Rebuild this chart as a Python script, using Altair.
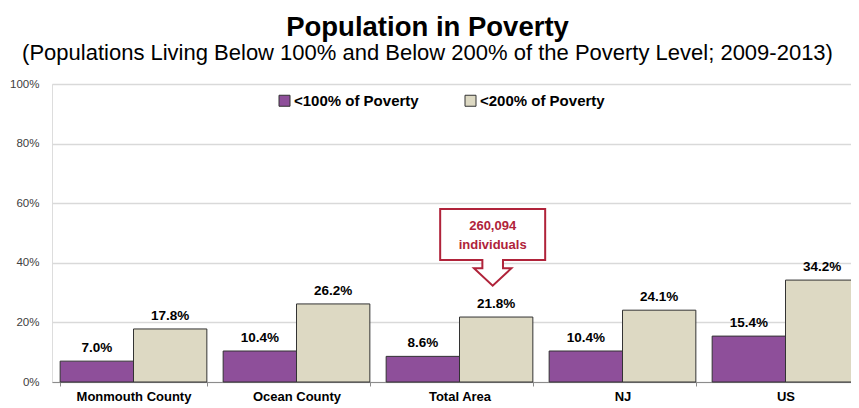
import altair as alt
import pandas as pd

regions = ["Monmouth County", "Ocean County", "Total Area", "NJ", "US"]
series = ["<100% of Poverty", "<200% of Poverty"]
below100 = [0.070, 0.104, 0.086, 0.104, 0.154]
below200 = [0.178, 0.262, 0.218, 0.241, 0.342]
callout_lines = ["260,094", "individuals"]
colors = ["#8E4F9A", "#DDD9C3"]
red = "#B0233A"
FONT = "Liberation Sans"

rows = []
for i, r in enumerate(regions):
    rows.append({"region": r, "series": series[0], "value": below100[i]})
    rows.append({"region": r, "series": series[1], "value": below200[i]})
df = pd.DataFrame(rows)
df["label"] = df["value"].map(lambda v: f"{v*100:.1f}%")

callout = pd.DataFrame([{"region": "Total Area", "series": series[1], "value": 0.5,
                         "l1": callout_lines[0], "l2": callout_lines[1]}])

x = alt.X("region:N", sort=regions,
          scale=alt.Scale(paddingInner=0.1, paddingOuter=0.05, range=[0, 815]),
          axis=alt.Axis(title=None, labelAngle=0, tickBand="extent", grid=False,
                        domainColor="#8c8c8c", tickColor="#8c8c8c", tickSize=4,
                        labelFont=FONT, labelFontSize=13, labelFontWeight="bold",
                        labelColor="black", labelPadding=4))
xo = alt.XOffset("series:N", sort=series, scale=alt.Scale(paddingInner=0, paddingOuter=0))
y = alt.Y("value:Q", scale=alt.Scale(domain=[0, 1]),
          axis=alt.Axis(title=None, format="%", values=[0, 0.2, 0.4, 0.6, 0.8, 1.0],
                        grid=True, gridColor="#d9d9d9", gridWidth=1.5, domain=False,
                        ticks=False, labelFont=FONT, labelFontSize=11.5,
                        labelColor="#404040", labelPadding=13))

color = alt.Color("series:N", sort=series,
                  scale=alt.Scale(domain=series, range=colors),
                  legend=alt.Legend(title=None, orient="none", legendX=225, legendY=9,
                                    direction="horizontal", symbolType="square",
                                    symbolSize=121, symbolStrokeColor="#333333",
                                    symbolStrokeWidth=1, labelFont=FONT,
                                    labelFontSize=15, labelFontWeight="bold",
                                    labelColor="black", columnPadding=44,
                                    labelOffset=2, padding=0))

bars = alt.Chart(df).mark_bar(stroke="#333333", strokeWidth=1).encode(
    x=x, xOffset=xo, y=y, color=color)

labels = alt.Chart(df).mark_text(font=FONT, fontSize=13.5, fontWeight="bold",
                                 color="black", baseline="alphabetic", dy=-9).encode(
    x=alt.X("region:N", sort=regions), xOffset=xo, y="value:Q", text="label:N")

shape_path = ("M -5.6 -2.4 L 4.9 -2.4 L 4.9 2.7 L 0.68 2.7 L 0.68 3.53 L 1.52 3.53 "
              "L -0.35 5.27 L -2.22 3.53 L -1.38 3.53 L -1.38 2.7 L -5.6 2.7 Z")
box = alt.Chart(callout).mark_point(shape=shape_path, size=400, filled=True,
                                    fill="white", stroke=red, strokeWidth=2,
                                    opacity=1, fillOpacity=1, strokeOpacity=1).encode(
    x=alt.X("region:N", sort=regions), xOffset=xo, y="value:Q")

t1 = alt.Chart(callout).mark_text(font=FONT, fontSize=13, fontWeight="bold", color=red,
                                  baseline="middle", dx=-3.5, dy=-7).encode(
    x=alt.X("region:N", sort=regions), xOffset=xo, y="value:Q", text="l1:N")
t2 = alt.Chart(callout).mark_text(font=FONT, fontSize=13, fontWeight="bold", color=red,
                                  baseline="middle", dx=-3.5, dy=12).encode(
    x=alt.X("region:N", sort=regions), xOffset=xo, y="value:Q", text="l2:N")

chart = alt.layer(bars, labels, box, t1, t2).properties(
    width=799, height=298,
    autosize=alt.AutoSizeParams(type="none"),
    padding={"left": 44, "top": 76, "right": 0, "bottom": 26},
    title=alt.TitleParams(
        text="Population in Poverty",
        subtitle="(Populations Living Below 100% and Below 200% of the Poverty Level; 2009-2013)",
        font=FONT, fontSize=27.5, fontWeight="bold", color="black",
        subtitleFont=FONT, subtitleFontSize=22, subtitleColor="black",
        anchor="middle", frame="group", dx=-24, offset=14, subtitlePadding=2),
).configure_view(stroke=None).configure(background="white")

chart.save("out.html", embed_options={"renderer": "svg", "actions": False})
